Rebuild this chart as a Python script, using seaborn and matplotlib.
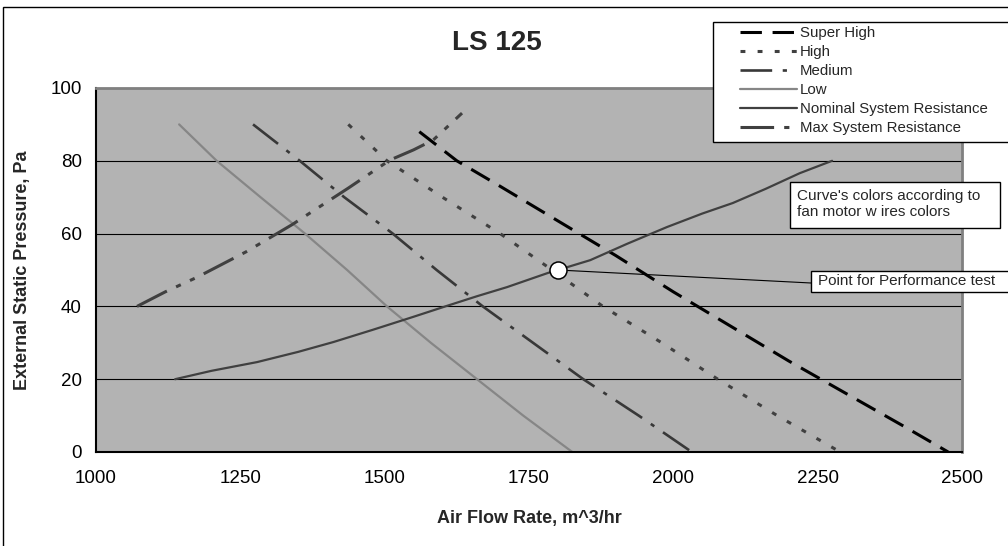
import numpy as np
import pandas as pd
import seaborn as sns
import matplotlib.pyplot as plt
from matplotlib.patches import Rectangle

# fan curves (air flow m^3/hr, pressure Pa)
super_high_x = [1560, 1625, 1700, 1800, 1900, 2000, 2100, 2200, 2300, 2400, 2476]
super_high_y = [88, 80, 73, 63.5, 54, 44, 34.5, 25, 16, 7, 0]

high_x = [1437, 1504, 1600, 1700, 1790, 1878, 1980, 2077, 2180, 2289]
high_y = [90, 80, 70, 60, 50, 40, 30, 20, 10, 0]

medium_x = [1272, 1353, 1430, 1514, 1590, 1670, 1757, 1844, 1940, 2032]
medium_y = [90, 80, 70, 60, 50, 40, 30, 20, 10, 0]

low_x = [1144, 1209, 1285, 1362, 1435, 1504, 1580, 1660, 1740, 1825]
low_y = [90, 80, 70, 60, 50, 40, 30, 20, 10, 0]

nominal_x = [1137, 1200, 1279, 1350, 1411, 1480, 1549, 1607, 1660, 1712,
             1783, 1800, 1856, 1920, 1989, 2050, 2103, 2160, 2219, 2275]
nominal_y = [20, 22.3, 24.7, 27.5, 30.2, 33.6, 37.1, 40.1, 42.8, 45.3,
             49.2, 50, 52.7, 57.2, 61.8, 65.5, 68.4, 72.3, 76.6, 80]

max_x = [1071, 1120, 1175, 1260, 1339, 1437, 1509, 1550, 1584, 1634]
max_y = [40, 44, 48, 55, 62.4, 72.5, 80.2, 83, 85.7, 93.1]

test_point = (1800, 50)
xticks = [1000, 1250, 1500, 1750, 2000, 2250, 2500]
yticks = [0, 20, 40, 60, 80, 100]

sns.set_style("white")
plt.rcParams['font.family'] = ['Liberation Sans', 'DejaVu Sans']

W, H = 1008, 546
fig = plt.figure(figsize=(W/100, H/100), dpi=100)
ax = fig.add_axes([96/W, 1-452/H, 866/W, 364/H])
ax.set_facecolor('#b3b3b3')

series = [
    ('Super High', super_high_x, super_high_y, 'black', 2.2, (0, (7, 3.5))),
    ('High', high_x, high_y, '#404040', 2.2, (0, (1.6, 4))),
    ('Medium', medium_x, medium_y, '#383838', 1.9, (0, (12, 4, 1.6, 4))),
    ('Low', low_x, low_y, '#868686', 1.6, '-'),
    ('Nominal System Resistance', nominal_x, nominal_y, '#404040', 1.6, '-'),
    ('Max System Resistance', max_x, max_y, '#404040', 2.2, (0, (11, 3.3, 1.7, 3.3, 1.7, 3.3))),
]
for name, xs, ys, col, lw, ls in series:
    sns.lineplot(x=xs, y=ys, ax=ax, color=col, linewidth=lw, linestyle=ls,
                 label=name, sort=False, estimator=None)
handles, labels = ax.get_legend_handles_labels()
ax.get_legend().remove()

sns.scatterplot(x=[test_point[0]], y=[test_point[1]], ax=ax, s=150, color='white',
                edgecolor='black', linewidth=1.1, zorder=6, legend=False)

ax.set_xlim(1000, 2500)
ax.set_ylim(0, 100)
ax.set_xticks(xticks)
ax.set_yticks(yticks)
ax.grid(axis='y', color='black', lw=0.8)
ax.grid(axis='x', visible=False)
ax.set_axisbelow(True)
for s in ['left', 'bottom']:
    ax.spines[s].set_color('black')
    ax.spines[s].set_linewidth(1.5)
for s in ['top', 'right']:
    ax.spines[s].set_color('#808080')
    ax.spines[s].set_linewidth(2)
ax.tick_params(axis='both', direction='out', length=4.3, width=1, color='black',
               labelsize=13.5, labelcolor='black')
ax.tick_params(axis='x', pad=9)
ax.tick_params(axis='y', pad=6)

ax.set_xlabel('Air Flow Rate, m^3/hr', fontsize=13, fontweight='bold')
ax.set_ylabel('External Static Pressure, Pa', fontsize=13, fontweight='bold')
ax.xaxis.set_label_coords(0.5, (452-518)/364)
ax.xaxis.label.set_va('center')
ax.yaxis.set_label_coords((23-96)/866, 0.5)
ax.yaxis.label.set_va('center')

fig.text(497/W, 1-43/H, 'LS 125', fontsize=20, fontweight='bold', ha='center', va='center')

# outer chart border
fig.patches.append(Rectangle((3/W, -0.1), 1.2, 1.1-7/H, transform=fig.transFigure,
                             fill=False, ec='black', lw=1))

# legend box
fig.patches.append(Rectangle((713/W, 1-142/H), 0.4, 120/H, transform=fig.transFigure,
                             fc='white', ec='black', lw=1, zorder=3))
fig.legend(handles, labels, loc='upper left', bbox_to_anchor=(740/W, 1-26/H),
           frameon=False, fontsize=10.8, handlelength=3.8, handletextpad=0.2,
           labelspacing=0.33, borderpad=0, borderaxespad=0)

# note box
fig.patches.append(Rectangle((790/W, 1-228/H), 210/W, 46/H, transform=fig.transFigure,
                             fc='white', ec='black', lw=1, zorder=3))
fig.text(797/W, 1-204/H, "Curve's colors according to\nfan motor w ires colors",
         fontsize=11, ha='left', va='center', linespacing=1.25, zorder=4)

# performance point label
fig.patches.append(Rectangle((811/W, 1-292/H), 200/W, 21/H, transform=fig.transFigure,
                             fc='white', ec='black', lw=1, zorder=3))
fig.text(818/W, 1-281.5/H, 'Point for Performance test', fontsize=11,
         ha='left', va='center', zorder=4)
ax.annotate('', xy=test_point, xytext=(811, H-283), textcoords='figure pixels',
            arrowprops=dict(arrowstyle='-', color='black', lw=0.8, shrinkA=0, shrinkB=7),
            annotation_clip=False)

fig.savefig('out.png', dpi=100)
